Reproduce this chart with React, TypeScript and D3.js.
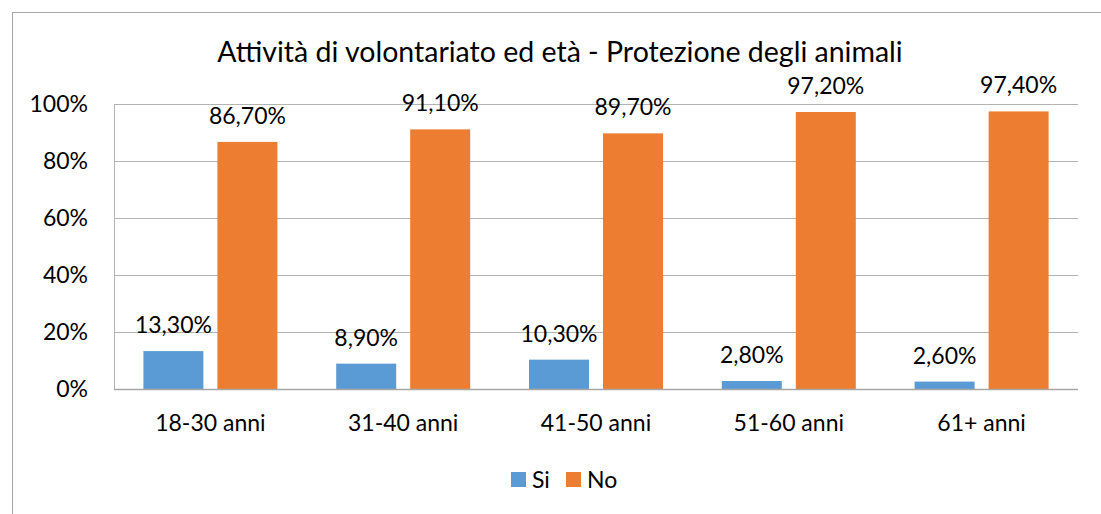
import React from "react";
import * as d3 from "d3";

const categories = ["18-30 anni", "31-40 anni", "41-50 anni", "51-60 anni", "61+ anni"];
const seriesNames = ["Si", "No"];
const siValues = [13.3, 8.9, 10.3, 2.8, 2.6];
const noValues = [86.7, 91.1, 89.7, 97.2, 97.4];
const yTicks = [0, 20, 40, 60, 80, 100];
const title = "Attività di volontariato ed età - Protezione degli animali";

const colors = ["#5B9BD5", "#ED7D31"];
const FONT = "Lato, 'Open Sans', sans-serif";

export default function App() {
  const W = 1101, H = 514;
  const left = 114, right = 1078, top = 104, bottom = 389;
  const x0 = d3.scaleBand().domain(categories).range([left, right]).paddingInner(0).paddingOuter(0);
  const y = d3.scaleLinear().domain([0, 100]).range([bottom, top]);
  const barW = 60, gap = 14;
  const series = [siValues, noValues];
  const fmt = (v: number) => v.toFixed(2).replace(".", ",") + "%";
  const fs = 23;

  return (
    <svg width={W} height={H} style={{ position: "absolute", left: 0, top: 0, background: "#fff" }}>
      <rect x={0} y={0} width={W} height={H} fill="#fff" />
      <line x1={12} y1={12.5} x2={W} y2={12.5} stroke="#a6a6a6" strokeWidth={1} />
      <line x1={12.5} y1={12} x2={12.5} y2={H} stroke="#a6a6a6" strokeWidth={1} />
      <text x={560} y={62} textAnchor="middle" fontFamily={FONT} fontSize={28.5} fill="#000">{title}</text>
      {yTicks.map((t) => (
        <g key={t}>
          {t > 0 && <line x1={left} x2={right} y1={Math.round(y(t)) + 0.5} y2={Math.round(y(t)) + 0.5} stroke="#b3b3b3" strokeWidth={1} />}
          <text x={88} y={y(t)} dy="0.35em" textAnchor="end" fontFamily={FONT} fontSize={fs} fill="#000">{t}%</text>
        </g>
      ))}
      {categories.map((c, i) => {
        const cx = (x0(c) as number) + x0.bandwidth() / 2;
        return (
          <g key={c}>
            {series.map((s, j) => {
              const bx = j === 0 ? cx - gap / 2 - barW : cx + gap / 2;
              const v = s[i];
              return (
                <g key={j}>
                  <rect x={bx} y={y(v)} width={barW} height={bottom - y(v)} fill={colors[j]} />
                  <text x={bx + barW / 2} y={y(v) - 26} dy="0.35em" textAnchor="middle" fontFamily={FONT} fontSize={fs} fill="#000">{fmt(v)}</text>
                </g>
              );
            })}
            <text x={cx} y={423} dy="0.35em" textAnchor="middle" fontFamily={FONT} fontSize={fs} fill="#000">{c}</text>
          </g>
        );
      })}
      <line x1={left + 0.5} x2={left + 0.5} y1={top} y2={bottom} stroke="#b3b3b3" strokeWidth={1} />
      <line x1={left} x2={right} y1={bottom + 0.5} y2={bottom + 0.5} stroke="#a6a6a6" strokeWidth={1.5} />
      {seriesNames.map((n, j) => {
        const lx = j === 0 ? 511 : 566;
        return (
          <g key={n}>
            <rect x={lx} y={472} width={15} height={15} fill={colors[j]} />
            <text x={lx + 21} y={480} dy="0.35em" fontFamily={FONT} fontSize={fs} fill="#000">{n}</text>
          </g>
        );
      })}
    </svg>
  );
}
